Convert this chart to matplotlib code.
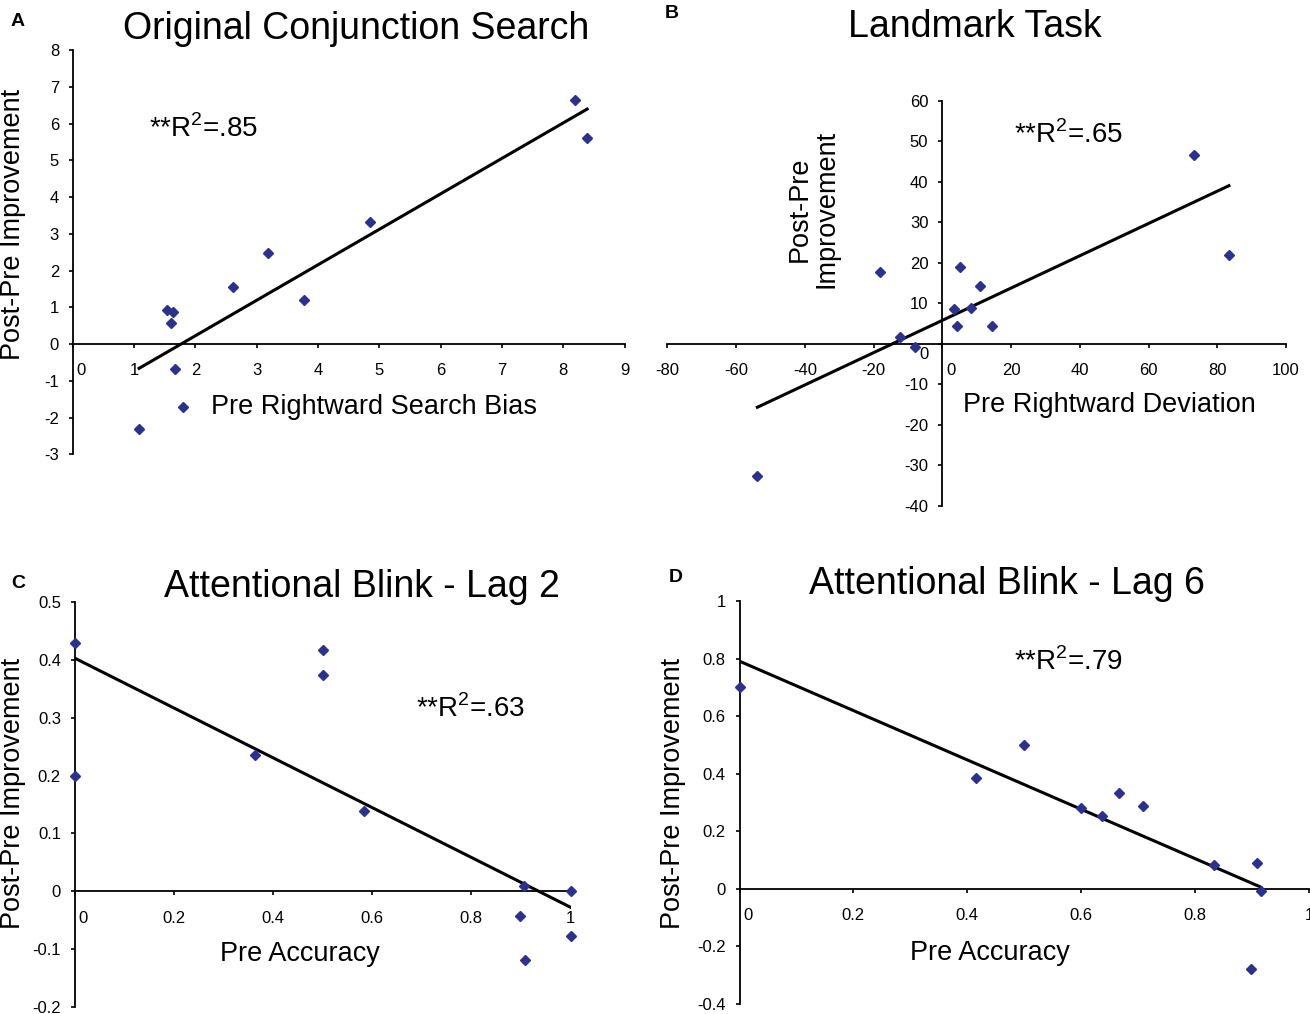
import numpy as np
import matplotlib
matplotlib.use('Agg')
import matplotlib.pyplot as plt

plt.rcParams['font.family'] = ['Liberation Sans', 'DejaVu Sans']
plt.rcParams['mathtext.fontset'] = 'custom'
plt.rcParams['mathtext.rm'] = 'Liberation Sans'

W, H = 1310, 1014
dot_color = '#2B318F'

# A - Original Conjunction Search
bias_x = [1.54, 1.64, 1.60, 2.61, 3.18, 3.77, 4.85, 8.19, 8.39, 1.66, 1.08, 1.79]
bias_y = [0.92, 0.88, 0.57, 1.56, 2.47, 1.20, 3.32, 6.63, 5.61, -0.69, -2.30, -1.72]

# B - Landmark Task
dev_x = [-53.8, -18.0, -12.2, -8.0, 3.4, 4.3, 5.3, 8.4, 11.0, 14.5, 73.2, 83.4]
dev_y = [-32.6, 17.7, 1.6, -0.7, 8.6, 4.4, 19.0, 8.8, 14.3, 4.4, 46.5, 22.0]

# C - Attentional Blink lag 2
lag2_x = [0.0, 0.0, 0.5, 0.5, 0.363, 0.584, 0.907, 0.899, 0.909, 1.0, 1.0]
lag2_y = [0.429, 0.200, 0.417, 0.375, 0.236, 0.138, 0.009, -0.043, -0.120, 0.0, -0.077]

# D - Attentional Blink lag 6
lag6_x = [0.0, 0.415, 0.499, 0.600, 0.636, 0.666, 0.709, 0.833, 0.908, 0.915, 0.898]
lag6_y = [0.702, 0.384, 0.501, 0.281, 0.252, 0.334, 0.289, 0.083, 0.090, -0.009, -0.277]

TICK_FS = 12
TLEN = 3
XPAD = 11
YPAD = 7


def fpos(x, y):
    return x / W, 1 - y / H


def make_axes(fig, x0, x1, ytop, ybot):
    return fig.add_axes([x0 / W, 1 - ybot / H, (x1 - x0) / W, (ybot - ytop) / H])


def fmt(v):
    return '%g' % v


def style_axes(ax, xlim, ylim, xticks, yticks, y_zero_shift=False):
    ax.set_xlim(xlim)
    ax.set_ylim(ylim)
    for s in ['top', 'right']:
        ax.spines[s].set_visible(False)
    ax.spines['left'].set_position(('data', 0))
    ax.spines['bottom'].set_position(('data', 0))
    for s in ['left', 'bottom']:
        ax.spines[s].set_linewidth(1.3)
    ax.patch.set_alpha(0)
    ax.set_xticks(xticks)
    ax.set_xticklabels(['' if abs(v) < 1e-12 else fmt(v) for v in xticks])
    ax.set_yticks(yticks)
    if y_zero_shift:
        ax.set_yticklabels(['' if abs(v) < 1e-12 else fmt(v) for v in yticks])
    else:
        ax.set_yticklabels([fmt(v) for v in yticks])
    ax.tick_params(axis='x', direction='out', length=TLEN, width=1.2,
                   pad=XPAD, labelsize=TICK_FS)
    ax.tick_params(axis='y', direction='out', length=TLEN, width=1.2,
                   pad=YPAD, labelsize=TICK_FS)
    # Excel-style zero label nudged off the crossing axis
    ax.annotate('0', xy=(0, 0), xycoords='data',
                xytext=(6, -(TLEN + XPAD)), textcoords='offset points',
                ha='center', va='top', fontsize=TICK_FS)
    if y_zero_shift:
        ax.annotate('0', xy=(0, 0), xycoords='data',
                    xytext=(-(TLEN + YPAD), -8), textcoords='offset points',
                    ha='right', va='center', fontsize=TICK_FS)


def scatter_fit(ax, x, y):
    x = np.array(x)
    y = np.array(y)
    k, b = np.polyfit(x, y, 1)
    xs = np.array([x.min(), x.max()])
    ax.plot(xs, k * xs + b, color='black', lw=2.2, zorder=2)
    ax.plot(x, y, linestyle='none', marker='D', ms=5.6, color=dot_color,
            zorder=3, clip_on=False)


fig = plt.figure(figsize=(W / 100, H / 100), dpi=100)

# panel A
axA = make_axes(fig, 72.9, 624.5, 50, 454.3)
style_axes(axA, (0, 9), (-3, 8), np.arange(0, 10, 1), np.arange(-3, 9, 1))
scatter_fit(axA, bias_x, bias_y)

# panel B
axB = make_axes(fig, 667.3, 1286, 100.7, 506)
style_axes(axB, (-80, 100), (-40, 60), np.arange(-80, 101, 20),
           np.arange(-40, 61, 10), y_zero_shift=True)
scatter_fit(axB, dev_x, dev_y)

# panel C
axC = make_axes(fig, 74.8, 570.5, 602.3, 1006.7)
style_axes(axC, (0, 1), (-0.2, 0.5), np.round(np.arange(0, 1.01, 0.2), 1),
           np.round(np.arange(-0.2, 0.51, 0.1), 1))
scatter_fit(axC, lag2_x, lag2_y)

# panel D
axD = make_axes(fig, 739.5, 1309, 601, 1004)
style_axes(axD, (0, 1), (-0.4, 1), np.round(np.arange(0, 1.01, 0.2), 1),
           np.round(np.arange(-0.4, 1.01, 0.2), 1))
scatter_fit(axD, lag6_x, lag6_y)

# panel letters
for letter, (x, y) in zip('ABCD', [(18, 22), (672, 13), (18, 583), (676, 578)]):
    fig.text(*fpos(x, y), letter, fontsize=14, fontweight='bold',
             ha='center', va='center')

# titles
TITLE_FS = 27
titles = ['Original Conjunction Search', 'Landmark Task',
          'Attentional Blink - Lag 2', 'Attentional Blink - Lag 6']
title_pos = [(356, 39), (975, 37), (362, 597), (1007, 594)]
for t, (x, y) in zip(titles, title_pos):
    fig.text(*fpos(x, y), t, fontsize=TITLE_FS, ha='center', va='baseline')

# axis titles
LAB_FS = 19.5
fig.text(*fpos(374, 414), 'Pre Rightward Search Bias', fontsize=LAB_FS,
         ha='center', va='baseline')
fig.text(*fpos(1109, 412), 'Pre Rightward Deviation', fontsize=LAB_FS,
         ha='center', va='baseline')
fig.text(*fpos(300, 961), 'Pre Accuracy', fontsize=LAB_FS,
         ha='center', va='baseline')
fig.text(*fpos(990, 960), 'Pre Accuracy', fontsize=LAB_FS,
         ha='center', va='baseline')

fig.text(*fpos(13, 224), 'Post-Pre Improvement', fontsize=LAB_FS,
         rotation=90, ha='center', va='center')
fig.text(*fpos(813, 209), 'Post-Pre\nImprovement', fontsize=LAB_FS,
         rotation=90, ha='center', va='center', linespacing=1.0)
fig.text(*fpos(13, 793), 'Post-Pre Improvement', fontsize=LAB_FS,
         rotation=90, ha='center', va='center')
fig.text(*fpos(673, 793), 'Post-Pre Improvement', fontsize=LAB_FS,
         rotation=90, ha='center', va='center')

# R squared notes
R_FS = 20
r2_text = ['.85', '.65', '.63', '.79']
r2_pos = [(149, 137), (1014, 143), (416, 717), (1014, 670)]
for r, (x, y) in zip(r2_text, r2_pos):
    fig.text(*fpos(x, y), r'**R$^{\mathregular{2}}$=' + r, fontsize=R_FS,
             ha='left', va='baseline')

fig.savefig('out.png', dpi=100)
